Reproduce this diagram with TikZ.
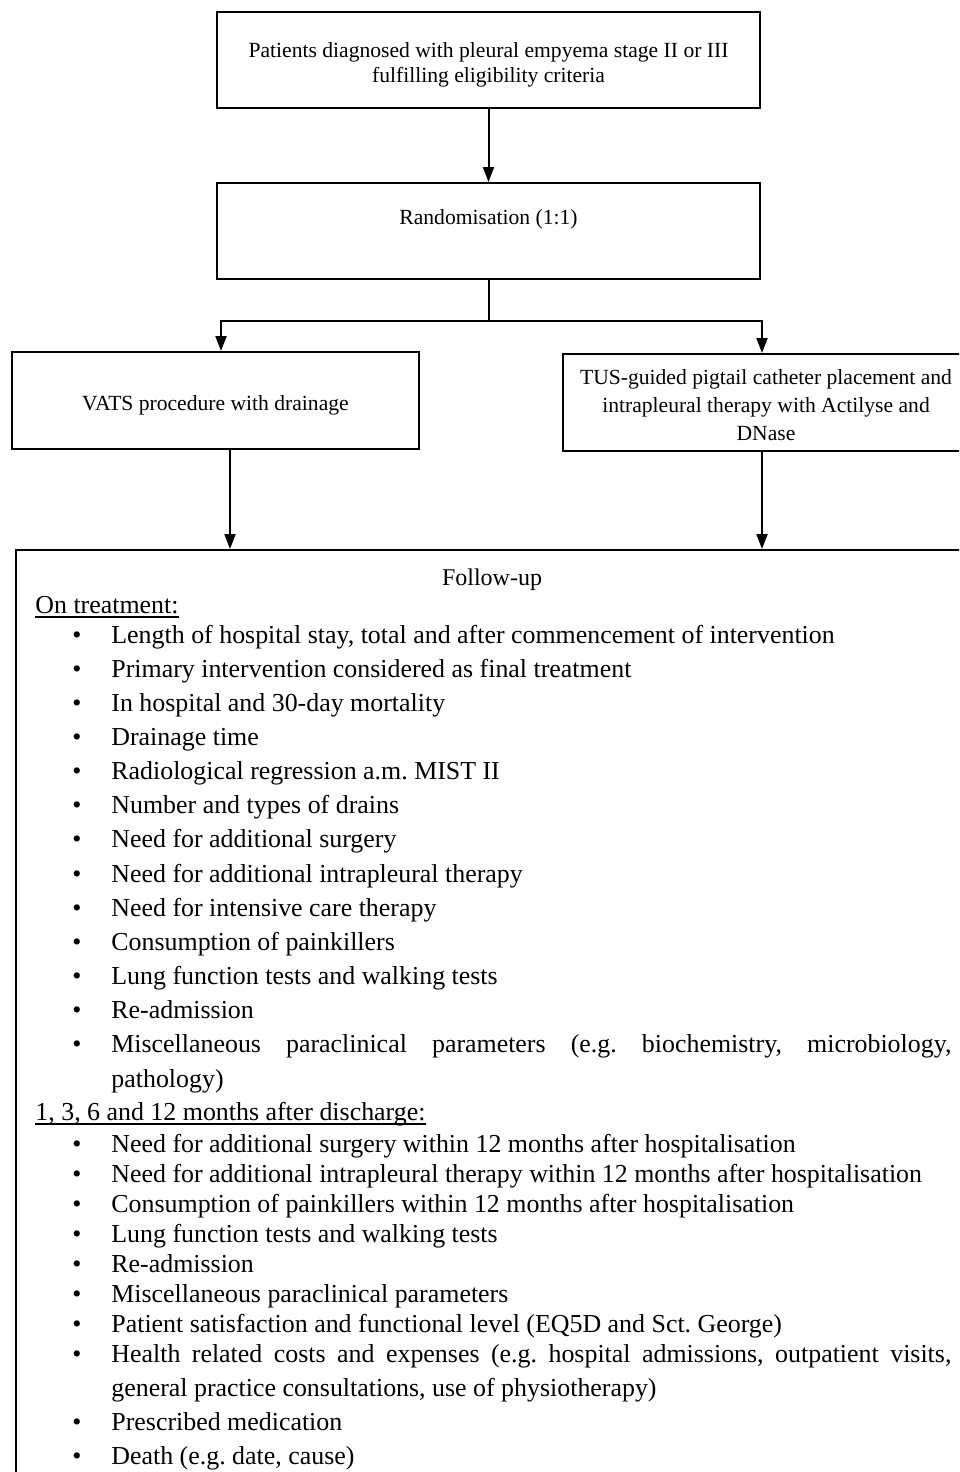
\documentclass[tikz,border=0pt]{standalone}
\usepackage{fontspec}
\setmainfont{Liberation Serif}
\usetikzlibrary{arrows.meta}
\frenchspacing
\begin{document}
\begin{tikzpicture}[x=0.5pt,y=-0.5pt,
  box/.style={draw, line width=1pt, rectangle, inner sep=0pt},
  bt/.style={inner sep=0pt, anchor=base, font=\fontsize{10.8}{13}\selectfont},
  ft/.style={inner sep=0pt, anchor=base west, font=\fontsize{12.95}{17}\selectfont},
  bul/.style={inner sep=0pt, anchor=base, font=\fontsize{12.95}{17}\selectfont},
  arr/.style={line width=1pt, -{Triangle[length=7.5pt,width=5.5pt]}},
  ln/.style={line width=1pt},
  ul/.style={line width=0.7pt}]
\useasboundingbox[fill=white] (0,0) rectangle (959,1472);
\clip (0,0) rectangle (959,1472);

% boxes
\node[box, minimum width=271.5pt, minimum height=48pt] (top) at (488.5,60) {};
\node[bt] (top1) at (488.5,57) {Patients diagnosed with pleural empyema stage II or III};
\node[bt] (top2) at (488.5,82) {fulfilling eligibility criteria};

\node[box, minimum width=271.5pt, minimum height=48pt] (rand) at (488.5,231) {};
\node[bt] (randt) at (488.5,224) {Randomisation (1:1)};

\node[box, minimum width=203.5pt, minimum height=48.5pt] (vats) at (215.5,400.5) {};
\node[bt] (vatst) at (215.5,410) {VATS procedure with drainage};

\node[box, minimum width=203pt, minimum height=48.5pt] (tus) at (766,402.5) {};
\node[bt] (tus1) at (766,384) {TUS-guided pigtail catheter placement and};
\node[bt] (tus2) at (766,412) {intrapleural therapy with Actilyse and};
\node[bt] (tus3) at (766,440) {DNase};

\node[box, minimum width=497pt, minimum height=485pt] (fu) at (513,1035) {};

% connectors
\coordinate (split) at (488.5,321);
\coordinate (cl) at (221,321);
\coordinate (cr) at (762,321);
\coordinate (dl) at (230,0);
\coordinate (dr) at (762,0);
\draw[arr] (top.south) -- (rand.north);
\draw[ln] (rand.south) -- (split);
\draw[arr] (split) -- (cl) -- (vats.north -| cl);
\draw[arr] (split) -- (cr) -- (tus.north -| cr);
\draw[arr] (vats.south -| dl) -- (fu.north -| dl);
\draw[arr] (tus.south -| dr) -- (fu.north -| dr);

% follow-up content
\node[inner sep=0pt, anchor=base, font=\fontsize{12}{14}\selectfont] (fut) at (492,585) {Follow-up};
\node[ft] (h1) at (35,613) {On treatment:};
\draw[ul] ([yshift=-2pt]h1.base west) -- ([yshift=-2pt]h1.base east);

\foreach \itm [count=\i from 0] in {
  {Length of hospital stay, total and after commencement of intervention},
  {Primary intervention considered as final treatment},
  {In hospital and 30-day mortality},
  {Drainage time},
  {Radiological regression a.m. MIST II},
  {Number and types of drains},
  {Need for additional surgery},
  {Need for additional intrapleural therapy},
  {Need for intensive care therapy},
  {Consumption of painkillers},
  {Lung function tests and walking tests},
  {Re-admission}} {
  \node[bul] (ba\i) at (77,{643+34.15*\i}) {•};
  \node[ft] (a\i) at (111,{643+34.15*\i}) {\itm};
}
\node[bul] (ba12) at (77,1052.8) {•};
\node[ft] (a12) at (111,1052.8) {\makebox[420pt][s]{Miscellaneous paraclinical parameters (e.g. biochemistry, microbiology,}};
\node[ft] (a12b) at (111,1087) {pathology)};

\node[ft] (h2) at (35,1120) {1, 3, 6 and 12 months after discharge:};
\draw[ul] ([yshift=-2pt]h2.base west) -- ([yshift=-2pt]h2.base east);

\foreach \itm [count=\i from 0] in {
  {Need for additional surgery within 12 months after hospitalisation},
  {Need for additional intrapleural therapy within 12 months after hospitalisation},
  {Consumption of painkillers within 12 months after hospitalisation},
  {Lung function tests and walking tests},
  {Re-admission},
  {Miscellaneous paraclinical parameters},
  {Patient satisfaction and functional level (EQ5D and Sct. George)}} {
  \node[bul] (bb\i) at (77,{1152+30*\i}) {•};
  \node[ft] (b\i) at (111,{1152+30*\i}) {\itm};
}
\node[bul] (bb7) at (77,1362) {•};
\node[ft] (b7) at (111,1362) {\makebox[420pt][s]{Health related costs and expenses (e.g. hospital admissions, outpatient visits,}};
\node[ft] (b7b) at (111,1396) {general practice consultations, use of physiotherapy)};
\node[bul] (bb8) at (77,1430) {•};
\node[ft] (b8) at (111,1430) {Prescribed medication};
\node[bul] (bb9) at (77,1464) {•};
\node[ft] (b9) at (111,1464) {Death (e.g. date, cause)};
\end{tikzpicture}
\end{document}
